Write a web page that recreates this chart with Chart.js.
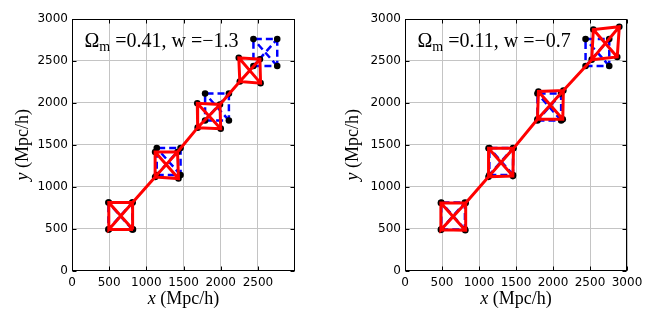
<!DOCTYPE html>
<html>
<head>
<meta charset="utf-8">
<script src="https://cdn.jsdelivr.net/npm/chart.js@4.4.1/dist/chart.umd.min.js"></script>
<style>
  html, body { margin: 0; padding: 0; background: #fff; }
  #wrap { position: relative; width: 654px; height: 327px; }
  canvas { position: absolute; top: 0; }
  #chart1 { left: 0; }
  #chart2 { left: 330px; }
</style>
</head>
<body>
<div id="wrap">
  <canvas id="chart1" width="330" height="327"></canvas>
  <canvas id="chart2" width="324" height="327"></canvas>
</div>
<script>
// corners of every square in order: bottom-left, bottom-right, top-right, top-left
const gridX = [490, 810, 810, 490, 1140, 1460, 1460, 1140, 1790, 2110, 2110, 1790, 2440, 2760, 2760, 2440];
const gridY = [490, 490, 810, 810, 1140, 1140, 1460, 1460, 1790, 1790, 2110, 2110, 2440, 2440, 2760, 2760];

const redX1 = [495, 820, 815, 495, 1118, 1432, 1419, 1118, 1690, 2000, 1990, 1685, 2257, 2536, 2527, 2243];
const redY1 = [490, 490, 812, 812, 1116, 1097, 1414, 1414, 1704, 1692, 1980, 1995, 2255, 2235, 2520, 2537];

const redX2 = [485, 815, 820, 485, 1129, 1458, 1466, 1129, 1790, 2132, 2140, 1803, 2523, 2868, 2896, 2545];
const redY2 = [485, 480, 805, 805, 1117, 1126, 1457, 1457, 1805, 1805, 2147, 2135, 2515, 2547, 2907, 2874];

const xTicks1 = [0, 500, 1000, 1500, 2000, 2500];
const xTicks2 = [0, 500, 1000, 1500, 2000, 2500, 3000];
const yTicks = [0, 500, 1000, 1500, 2000, 2500, 3000];

const omega1 = '0.41', w1 = '\u22121.3';
const omega2 = '0.11', w2 = '\u22120.7';

// square outline + both diagonals, optional line joining neighbour squares
function squarePaths(xs, ys, connect) {
  const out = [];
  const gap = { x: null, y: null };
  const p = i => ({ x: xs[i], y: ys[i] });
  for (let b = 0; b < xs.length; b += 4) {
    out.push(p(b), p(b + 1), p(b + 2), p(b + 3), p(b), p(b + 2), gap, p(b + 1), p(b + 3), gap);
    if (connect && b + 4 < xs.length) out.push(p(b + 2), p(b + 4), gap);
  }
  return out;
}

function corners(xs, ys) {
  return xs.map((x, i) => ({ x: x, y: ys[i] }));
}

const serif = '"Liberation Serif", "Times New Roman", serif';

const decor = {
  id: 'decor',
  afterDatasetsDraw(chart) {
    const { ctx, chartArea: a } = chart;
    const l = Math.round(a.left) + 0.5, t = Math.round(a.top) + 0.5;
    const r = Math.round(a.right) - 0.5, b = Math.round(a.bottom) - 0.5;
    ctx.save();
    ctx.strokeStyle = '#000';
    ctx.lineWidth = 1;
    ctx.beginPath();
    chart.scales.x.ticks.forEach(tk => {
      const px = Math.round(chart.scales.x.getPixelForValue(tk.value)) + 0.5;
      ctx.moveTo(px, b); ctx.lineTo(px, b - 4);
      ctx.moveTo(px, t); ctx.lineTo(px, t + 4);
    });
    chart.scales.y.ticks.forEach(tk => {
      const py = Math.round(chart.scales.y.getPixelForValue(tk.value)) + 0.5;
      ctx.moveTo(l, py); ctx.lineTo(l + 4, py);
      ctx.moveTo(r, py); ctx.lineTo(r - 4, py);
    });
    ctx.stroke();
    ctx.strokeRect(l, t, r - l, b - t);
    ctx.restore();
  },
  afterDraw(chart, args, opts) {
    const { ctx, chartArea: a } = chart;
    ctx.save();
    ctx.fillStyle = '#000';
    ctx.textBaseline = 'alphabetic';
    ctx.textAlign = 'left';

    // annotation
    let x = a.left + 12.5;
    const y = a.top + 28;
    ctx.font = '20px ' + serif;
    ctx.fillText('\u03A9', x, y);
    x += ctx.measureText('\u03A9').width;
    ctx.font = '14px ' + serif;
    ctx.fillText('m', x, y + 4);
    x += ctx.measureText('m').width;
    ctx.font = '20px ' + serif;
    ctx.fillText(' =' + opts.omega + ', w =' + opts.w, x, y);

    // x axis title
    ctx.font = 'italic 18px ' + serif;
    const wx = ctx.measureText('x').width;
    ctx.font = '18px ' + serif;
    const wr = ctx.measureText(' (Mpc/h)').width;
    let sx = (a.left + a.right) / 2 - (wx + wr) / 2;
    ctx.font = 'italic 18px ' + serif;
    ctx.fillText('x', sx, 304);
    ctx.font = '18px ' + serif;
    ctx.fillText(' (Mpc/h)', sx + wx, 304);

    // y axis title
    ctx.translate(opts.yTitleX, (a.top + a.bottom) / 2);
    ctx.rotate(-Math.PI / 2);
    ctx.font = 'italic 18px ' + serif;
    const wy = ctx.measureText('y').width;
    sx = -(wy + wr) / 2;
    ctx.fillText('y', sx, 0);
    ctx.font = '18px ' + serif;
    ctx.fillText(' (Mpc/h)', sx + wy, 0);
    ctx.restore();
  }
};

function makeChart(id, redX, redY, xMax, xTicks, omega, w, yWidth, padRight, xHeight, yTitleX) {
  const ctx = document.getElementById(id).getContext('2d');
  return new Chart(ctx, {
    type: 'scatter',
    data: {
      datasets: [
        {
          data: squarePaths(redX, redY, true),
          showLine: true,
          spanGaps: false,
          borderColor: '#ff0000',
          borderWidth: 3,
          pointRadius: 0,
          order: 0
        },
        {
          data: corners(gridX, gridY).concat(corners(redX, redY)),
          showLine: false,
          pointRadius: 3.3,
          pointBorderWidth: 0,
          backgroundColor: '#000',
          borderColor: '#000',
          order: 1
        },
        {
          data: squarePaths(gridX, gridY, false),
          showLine: true,
          spanGaps: false,
          borderColor: '#0000ff',
          borderWidth: 2.5,
          borderDash: [7, 4],
          pointRadius: 0,
          order: 2
        }
      ]
    },
    options: {
      responsive: false,
      animation: false,
      events: [],
      layout: { padding: { top: 19, right: padRight, left: 0, bottom: 0 } },
      plugins: {
        legend: { display: false },
        tooltip: { enabled: false },
        decor: { omega: omega, w: w, yTitleX: yTitleX }
      },
      scales: {
        x: {
          type: 'linear',
          min: 0,
          max: xMax,
          afterBuildTicks: axis => { axis.ticks = xTicks.map(v => ({ value: v })); },
          afterFit: axis => { axis.height = xHeight; },
          grid: { color: '#c4c4c4', lineWidth: 1, drawTicks: false },
          border: { display: false },
          ticks: {
            color: '#000',
            padding: 5,
            maxRotation: 0,
            autoSkip: false,
            callback: v => String(v),
            font: { family: '"DejaVu Sans"', size: 12 }
          }
        },
        y: {
          type: 'linear',
          min: 0,
          max: 3000,
          afterBuildTicks: axis => { axis.ticks = yTicks.map(v => ({ value: v })); },
          afterFit: axis => { axis.width = yWidth; },
          grid: { color: '#c4c4c4', lineWidth: 1, drawTicks: false },
          border: { display: false },
          ticks: {
            color: '#000',
            padding: 4,
            autoSkip: false,
            callback: v => String(v),
            font: { family: '"DejaVu Sans"', size: 12 }
          }
        }
      }
    },
    plugins: [decor]
  });
}

makeChart('chart1', redX1, redY1, 2999, xTicks1, omega1, w1, 72, 35, 56.5, 28);
makeChart('chart2', redX2, redY2, 3000, xTicks2, omega2, w2, 75, 27, 56.5, 28);
</script>
</body>
</html>
